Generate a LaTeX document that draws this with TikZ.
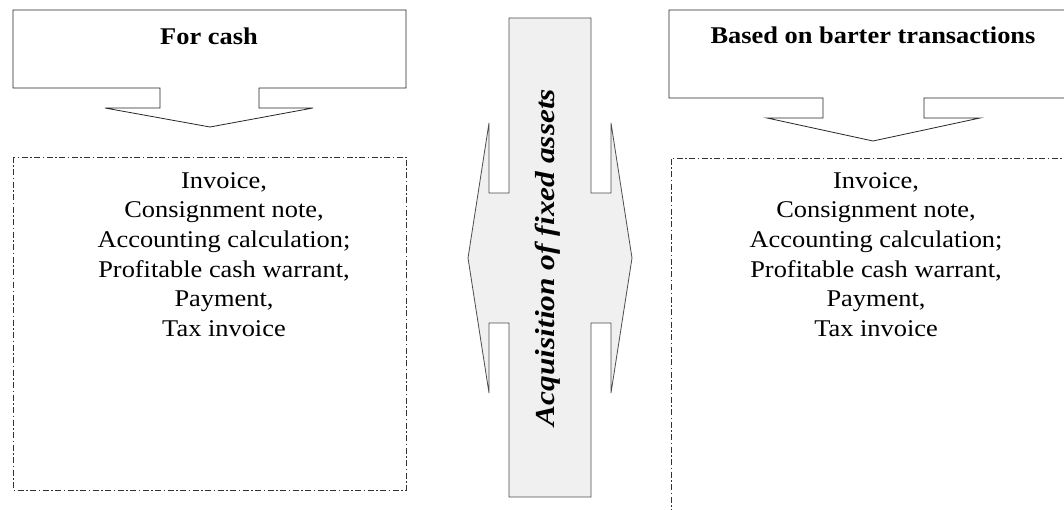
\documentclass[tikz,border=0pt]{standalone}
\usepackage{fontspec}
\setmainfont{Liberation Serif}
\begin{document}
\begin{tikzpicture}[x=1pt,y=-1pt,
  callout/.style={draw=black!85, line width=0.8pt, fill=white, line join=miter},
  dashbox/.style={draw=black!80, line width=0.9pt, dash pattern=on 6pt off 2.5pt on 1.5pt off 2.5pt},
  bigarrow/.style={draw=black!70, line width=0.8pt, fill=black!6, line join=miter},
  titletext/.style={font=\fontsize{24}{29}\selectfont\bfseries, inner sep=0pt, xscale=1.1, anchor=base},
  bodytext/.style={font=\fontsize{24}{29.7}\selectfont, align=center, inner sep=0pt, xscale=1.1, anchor=north},
  verttext/.style={font=\fontsize{27.5}{30}\selectfont\bfseries\itshape, inner sep=0pt, rotate=90, xscale=1.14}]
\useasboundingbox (0,0) rectangle (1064,510);
% left callout
\draw[callout] (13,10) -- (406,10) -- (406,88) -- (259,88) -- (259,108) -- (313,108)
  -- (210,127) -- (105,108) -- (160,108) -- (160,88) -- (13,88) -- cycle;
\node[titletext] (cash) at (209,45) {For cash};
% right callout
\draw[callout] (1070,10) -- (669,10) -- (669,98) -- (823,98) -- (823,118) -- (767,118)
  -- (873,141) -- (980,118) -- (924,118) -- (924,98) -- (1070,98);
\node[titletext] (barter) at (873,44) {Based on barter transactions};
% dashed boxes
\draw[dashbox] (13,157) rectangle (406,490);
\draw[dashbox] (1070,158) -- (671,158) -- (671,515);
\node[bodytext] (docsL) at (224,172) {Invoice,\\ Consignment note,\\ Accounting calculation;\\ Profitable cash warrant,\hspace*{30pt}\\ Payment,\\ Tax invoice};
\node[bodytext] (docsR) at (876,172) {Invoice,\\ Consignment note,\\ Accounting calculation;\\ Profitable cash warrant,\hspace*{16pt}\\ Payment,\\ Tax invoice};
% central double arrow
\draw[bigarrow] (509,18) -- (591,18) -- (591,193) -- (611,193) -- (611,123) -- (632,258)
  -- (611,393) -- (611,323) -- (591,323) -- (591,497) -- (509,497) -- (509,323)
  -- (489,323) -- (489,393) -- (468,258) -- (489,123) -- (489,193) -- (509,193) -- cycle;
\node[verttext] (acq) at (548,257.5) {Acquisition of fixed assets};
\end{tikzpicture}
\end{document}
